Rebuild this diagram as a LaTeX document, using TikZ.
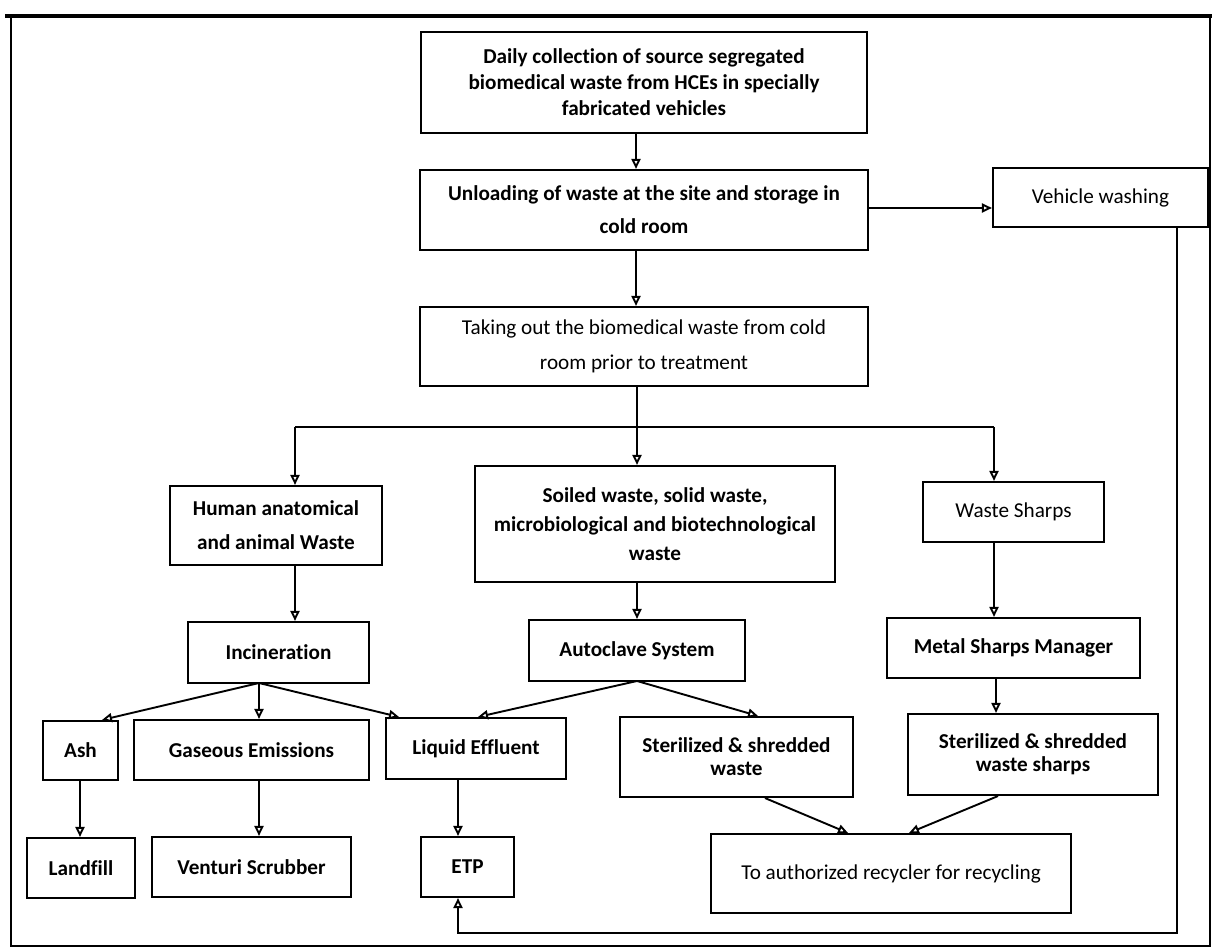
\documentclass[tikz,border=0pt]{standalone}
\usepackage{fontspec}
\setmainfont{Carlito}[Ligatures=NoCommon]
\usetikzlibrary{arrows.meta}
\begin{document}
\begin{tikzpicture}[x=0.5pt,y=-0.5pt,
  box/.style={draw, line width=1.05pt, inner sep=1pt, align=center, font=\bfseries\fontsize{10.6}{13}\selectfont},
  rbox/.style={box, font=\fontsize{10.6}{13}\selectfont},
  arr/.style={line width=0.95pt, -{Triangle[open,length=5pt,width=4.5pt]}},
  ln/.style={line width=0.95pt}]
\useasboundingbox (0,0) rectangle (1216,951);
\draw[line width=1.1pt] (11,16) rectangle (1210,946);
\draw[line width=2pt] (5,16) -- (1212,16);

% nodes
\node[box, minimum width=223pt, minimum height=50.5pt] (daily) at (644,82.5)
  {Daily collection of source segregated\\biomedical waste from HCEs in specially\\fabricated vehicles};
\node[box, font=\bfseries\fontsize{10.6}{16.5}\selectfont, minimum width=224pt, minimum height=40pt] (unload) at (644,210)
  {Unloading of waste at the site and storage in\\cold room};
\node[rbox, font=\fontsize{10.6}{17.5}\selectfont, minimum width=224pt, minimum height=39.5pt] (takeout) at (644,346.5)
  {Taking out the biomedical waste  from cold\\room prior to treatment};
\node[rbox, minimum width=107.5pt, minimum height=29.5pt] (vw) at (1100.5,197.5) {Vehicle washing};
\node[box, font=\bfseries\fontsize{10.6}{17}\selectfont, minimum width=106pt, minimum height=39.5pt] (human) at (276,525.5)
  {Human anatomical\\and animal Waste};
\node[box, font=\bfseries\fontsize{10.6}{14.5}\selectfont, minimum width=180pt, minimum height=58pt] (soiled) at (655,524)
  {Soiled waste, solid waste,\\microbiological and biotechnological\\waste};
\node[rbox, minimum width=90.5pt, minimum height=30pt] (sharps) at (1013.5,512) {Waste Sharps};
\node[box, minimum width=90.5pt, minimum height=30.5pt] (incin) at (278.5,652.5) {Incineration};
\node[box, minimum width=108pt, minimum height=30.5pt] (auto) at (637,650.5) {Autoclave System};
\node[box, minimum width=126.5pt, minimum height=30pt] (metal) at (1013.5,648) {Metal Sharps Manager};
\node[box, minimum width=37.5pt, minimum height=29.5pt] (ash) at (80.5,750.5) {Ash};
\node[box, minimum width=117.5pt, minimum height=30pt] (gas) at (251.5,750) {Gaseous Emissions};
\node[box, minimum width=90pt, minimum height=30.5pt] (liquid) at (476,748.5) {Liquid Effluent};
\node[box, font=\bfseries\fontsize{10.6}{11.5}\selectfont, minimum width=116.5pt, minimum height=40pt] (ster) at (736.5,757)
  {Sterilized \& shredded\\waste};
\node[box, font=\bfseries\fontsize{10.6}{11.5}\selectfont, minimum width=125pt, minimum height=40.5pt] (sters) at (1033,754.5)
  {Sterilized \& shredded\\waste sharps};
\node[box, minimum width=54pt, minimum height=30pt] (landfill) at (81,868) {Landfill};
\node[box, minimum width=99.5pt, minimum height=30pt] (venturi) at (251.5,867) {Venturi Scrubber};
\node[box, minimum width=46.5pt, minimum height=30pt] (etp) at (467.5,867) {ETP};
\node[rbox, minimum width=180pt, minimum height=39.5pt] (recyc) at (891,873.5) {To authorized recycler for recycling};

% helper coordinates
\coordinate (x636) at (636,0);
\coordinate (x637) at (637,0);
\coordinate (x295) at (295,0);
\coordinate (x994) at (994,0);
\coordinate (x996) at (996,0);
\coordinate (ybr) at (0,427);
\coordinate (io) at (259,683);
\coordinate (ao) at (637,681);
\coordinate (x102) at (102,0);
\coordinate (x399) at (399,0);
\coordinate (x478) at (478,0);
\coordinate (x758) at (758,0);
\coordinate (x80) at (80,0);
\coordinate (x458) at (458,0);
\coordinate (x765) at (765,0);
\coordinate (x848) at (848,0);
\coordinate (x998) at (998,0);
\coordinate (x909) at (909,0);
\coordinate (x1177) at (1177,0);
\coordinate (ylp) at (0,933);
\coordinate (y208) at (0,208);

% connectors
\draw[arr] (daily.south -| x636) -- (unload.north -| x636);
\draw[arr] (unload.south -| x636) -- (takeout.north -| x636);
\draw[arr] (unload.east |- y208) -- (vw.west |- y208);
\draw[arr] (takeout.south -| x637) -- (soiled.north -| x637);
\draw[ln] (x295 |- ybr) -- (x994 |- ybr);
\draw[arr] (x295 |- ybr) -- (human.north -| x295);
\draw[arr] (x994 |- ybr) -- (sharps.north -| x994);
\draw[arr] (human.south -| x295) -- (incin.north -| x295);
\draw[arr] (soiled.south -| x637) -- (auto.north -| x637);
\draw[arr] (sharps.south -| x994) -- (metal.north -| x994);
\draw[arr] (io) -- (ash.north -| x102);
\draw[arr] (io) -- (gas.north -| io);
\draw[arr] (io) -- (liquid.north -| x399);
\draw[arr] (ao) -- (liquid.north -| x478);
\draw[arr] (ao) -- (ster.north -| x758);
\draw[arr] (metal.south -| x996) -- (sters.north -| x996);
\draw[arr] (ash.south -| x80) -- (landfill.north -| x80);
\draw[arr] (gas.south -| io) -- (venturi.north -| io);
\draw[arr] (liquid.south -| x458) -- (etp.north -| x458);
\draw[arr] (ster.south -| x765) -- (recyc.north -| x848);
\draw[arr] (sters.south -| x998) -- (recyc.north -| x909);
\draw[arr] (vw.south -| x1177) -- (x1177 |- ylp) -- (x458 |- ylp) -- (etp.south -| x458);
\end{tikzpicture}
\end{document}
